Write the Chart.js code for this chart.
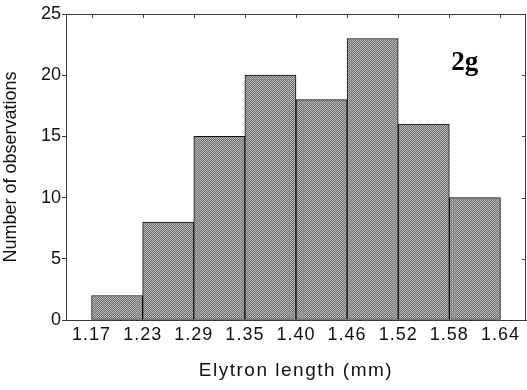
<!DOCTYPE html>
<html>
<head>
<meta charset="utf-8">
<script src="https://cdn.jsdelivr.net/npm/chart.js@4.4.1/dist/chart.umd.min.js"></script>
<style>
  html, body { margin: 0; padding: 0; background: #ffffff; }
  #wrap { width: 527px; height: 390px; }
</style>
</head>
<body>
<div id="wrap"><canvas id="c" width="527" height="390"></canvas></div>
<script>
// ---- data ----
const binEdgeLabels = ['1.17', '1.23', '1.29', '1.35', '1.40', '1.46', '1.52', '1.58', '1.64'];
const counts = [2, 8, 15, 20, 18, 23, 16, 10];
const yTickValues = [0, 5, 10, 15, 20, 25];
const xTitle = 'Elytron length (mm)';
const yTitle = 'Number of observations';
const panelLabel = { text: '2g', x: 7.3, y: 20.4 };

// ---- bar fill pattern (fine dotted grey) ----
const pc = document.createElement('canvas');
pc.width = 4; pc.height = 4;
const pctx = pc.getContext('2d');
pctx.fillStyle = '#767676';
pctx.fillRect(0, 0, 4, 4);
pctx.fillStyle = '#aaaaaa';
[[0,0],[2,0],[1,1],[3,1],[0,2],[2,2],[1,3],[3,3]].forEach(([x, y]) => pctx.fillRect(x, y, 1, 1));
pctx.fillStyle = '#c6c6c6';
[[0,0],[2,2]].forEach(([x, y]) => pctx.fillRect(x, y, 1, 1));
const barPattern = document.getElementById('c').getContext('2d').createPattern(pc, 'repeat');

const barData = counts.map((v, i) => ({ x: i + 0.5, y: v }));

const axisColor = '#3a3a3a';

// widen the x-axis title and tick labels slightly (reference text is horizontally stretched)
const spacingPlugin = {
  id: 'spacing',
  beforeDraw(chart) {
    const s = chart.scales.x;
    if (s && !s._wrapped) {
      const origTitle = s.drawTitle;
      s.drawTitle = function () {
        const ctx = this.ctx;
        ctx.save();
        ctx.letterSpacing = '1.5px';
        origTitle.apply(this, arguments);
        ctx.restore();
      };
      const origLabels = s.drawLabels;
      s.drawLabels = function () {
        const ctx = this.ctx;
        ctx.save();
        ctx.letterSpacing = '1px';
        origLabels.apply(this, arguments);
        ctx.restore();
      };
      s._wrapped = true;
    }
  }
};

const framePlugin = {
  id: 'frame',
  afterDatasetsDraw(chart) {
    const { ctx, chartArea: a, scales } = chart;
    ctx.save();
    ctx.strokeStyle = axisColor;
    ctx.lineWidth = 1;
    ctx.beginPath();
    ctx.moveTo(a.left, a.top + 0.5);
    ctx.lineTo(a.right, a.top + 0.5);
    ctx.moveTo(a.right - 0.5, a.top);
    ctx.lineTo(a.right - 0.5, a.bottom);
    binEdgeLabels.forEach((_, i) => {
      const px = Math.round(scales.x.getPixelForValue(i)) + 0.5;
      ctx.moveTo(px, a.top);
      ctx.lineTo(px, a.top + 4);
    });
    yTickValues.forEach(v => {
      const py = Math.round(scales.y.getPixelForValue(v)) + 0.5;
      ctx.moveTo(a.right, py);
      ctx.lineTo(a.right - 4, py);
    });
    ctx.stroke();
    ctx.fillStyle = '#000';
    ctx.font = 'bold 27px "Liberation Serif", "Times New Roman", serif';
    ctx.textAlign = 'center';
    ctx.textBaseline = 'alphabetic';
    ctx.fillText(panelLabel.text, scales.x.getPixelForValue(panelLabel.x), scales.y.getPixelForValue(panelLabel.y));
    ctx.restore();
  }
};

new Chart(document.getElementById('c'), {
  type: 'bar',
  data: {
    datasets: [{
      data: barData,
      backgroundColor: barPattern,
      borderColor: '#111111',
      borderWidth: 1,
      borderSkipped: false,
      barPercentage: 1.0,
      categoryPercentage: 1.0
    }]
  },
  options: {
    responsive: false,
    devicePixelRatio: 1,
    animation: false,
    layout: { padding: { top: 14, right: 1, left: 0, bottom: 0 } },
    plugins: { legend: { display: false }, tooltip: { enabled: false } },
    scales: {
      x: {
        type: 'linear',
        offset: false,
        min: -0.5,
        max: 8.5,
        afterBuildTicks: (s) => { s.ticks = binEdgeLabels.map((_, i) => ({ value: i })); },
        afterFit: (s) => { s.height = 70; },
        grid: { display: false, offset: false },
        border: { display: true, color: axisColor, width: 1 },
        ticks: {
          autoSkip: false,
          maxRotation: 0,
          padding: -4,
          color: '#111',
          font: { family: '"Liberation Sans", Arial, sans-serif', size: 18 },
          callback: (v) => binEdgeLabels[v] ?? ''
        },
        title: {
          display: true,
          text: xTitle,
          color: '#111',
          padding: { top: 0, bottom: 8 },
          font: { family: '"Liberation Sans", Arial, sans-serif', size: 19 }
        }
      },
      y: {
        min: 0,
        max: 25,
        afterBuildTicks: (s) => { s.ticks = yTickValues.map(v => ({ value: v })); },
        afterFit: (s) => { s.width = 66; },
        grid: { display: true, drawOnChartArea: false, tickLength: 4, color: axisColor },
        border: { display: true, color: axisColor, width: 1 },
        ticks: {
          padding: 1,
          color: '#111',
          font: { family: '"Liberation Sans", Arial, sans-serif', size: 18 }
        },
        title: {
          display: true,
          text: yTitle,
          color: '#111',
          padding: { top: 0, bottom: 4 },
          font: { family: '"Liberation Sans", Arial, sans-serif', size: 18 }
        }
      }
    }
  },
  plugins: [spacingPlugin, framePlugin]
});
</script>
</body>
</html>
